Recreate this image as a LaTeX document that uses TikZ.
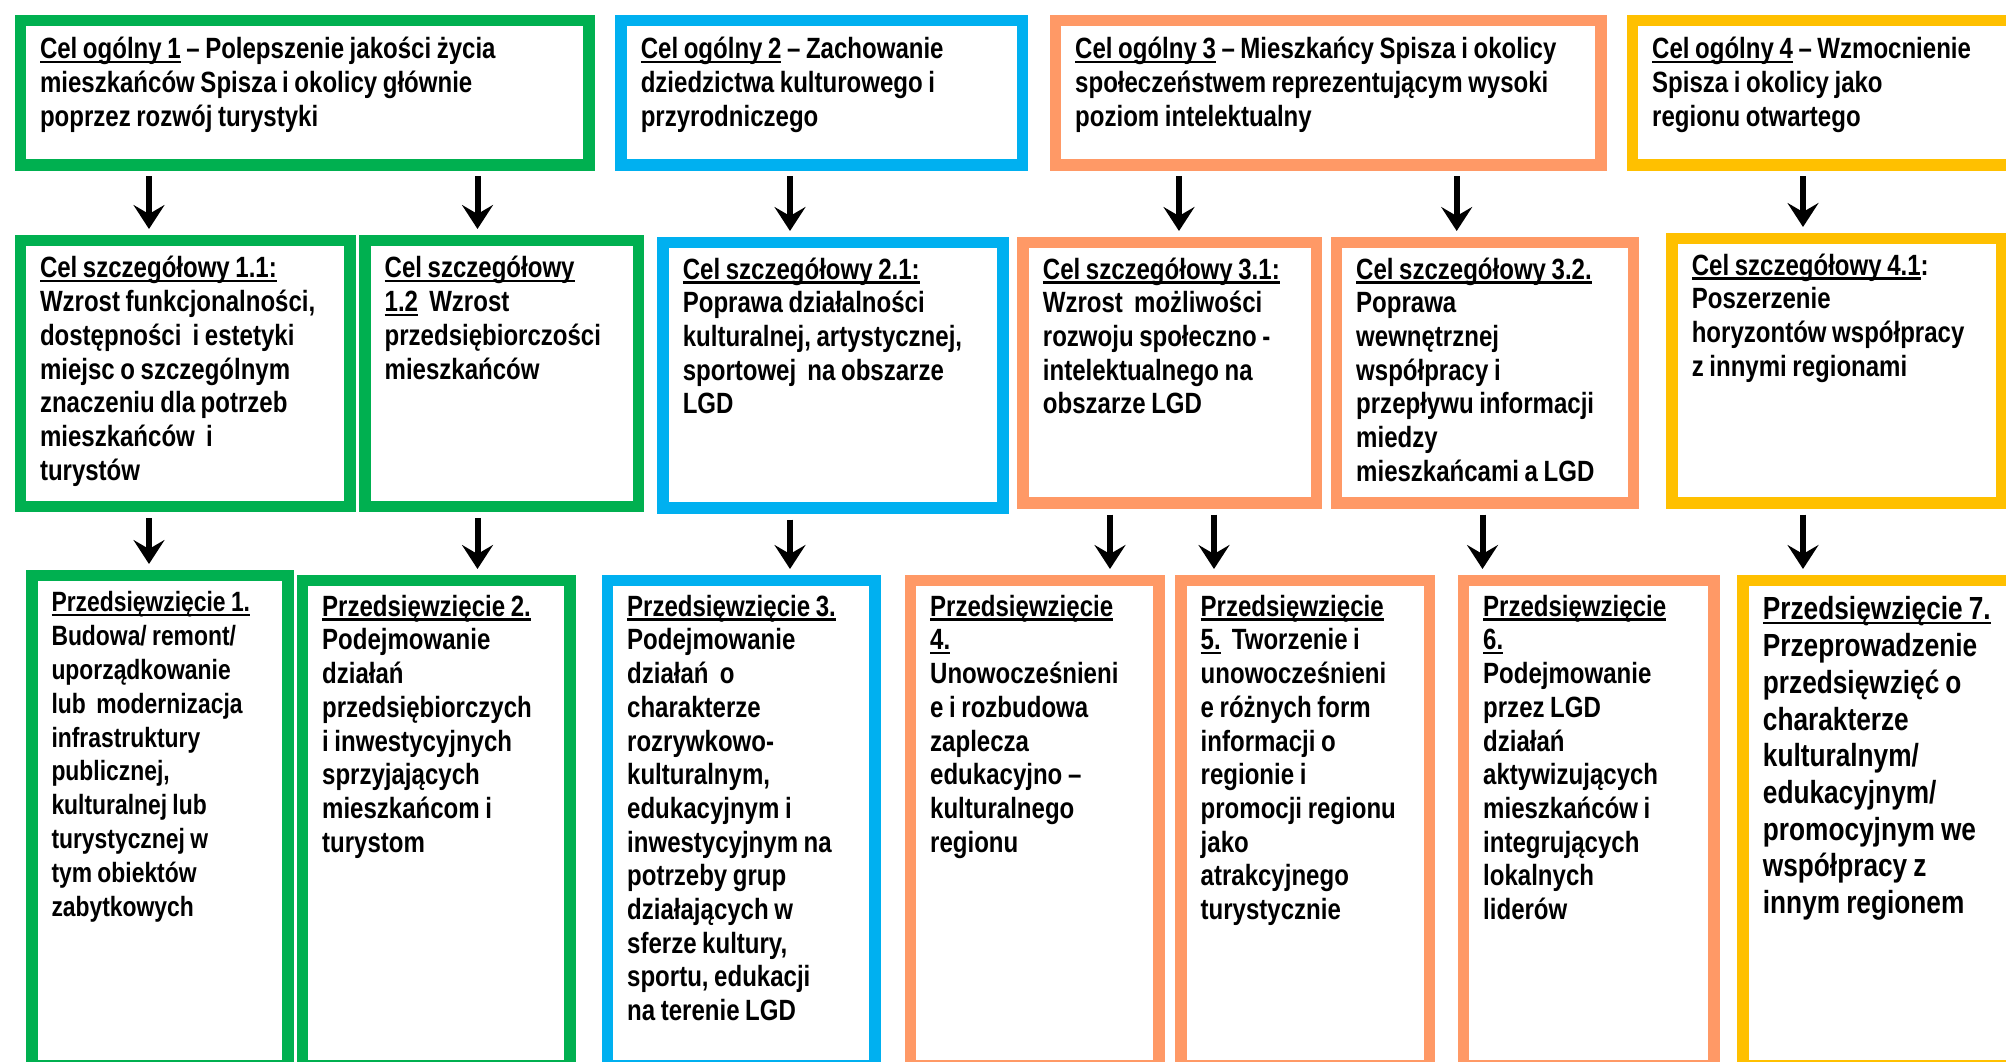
\documentclass[tikz,border=0pt]{standalone}
\usepackage{fontspec}
\setmainfont{Liberation Sans}[FakeStretch=0.82]
\usepackage[HTML]{xcolor}
\usepackage{tikz}
\usetikzlibrary{arrows.meta}

\definecolor{zielony}{HTML}{00B050}
\definecolor{niebieski}{HTML}{00B0F0}
\definecolor{pomaranczowy}{HTML}{FF9966}
\definecolor{zolty}{HTML}{FFC000}

\newcommand{\podkr}[1]{\leavevmode\setbox0=\hbox{#1}\rlap{\rule[-4.5pt]{\wd0}{2.4pt}}\box0\relax}
\newcommand{\odstep}[1]{\spaceskip #1\relax}

\tikzset{
  ramka/.style={draw=#1, line width=11.5pt, fill=white, inner sep=0pt, anchor=north west},
  opis/.style={anchor=north west, inner sep=0pt, align=left, text height=20pt,
    font=\bfseries\fontsize{29.3}{33.7}\selectfont, execute at begin node=\odstep{5.6pt}},
  strzalka/.style={line width=6pt, -{Stealth[length=24pt,width=31pt,inset=9pt]},
    shorten <=5.75pt, shorten >=5.75pt}
}

\begin{document}
\begin{tikzpicture}[x=1pt,y=-1pt]
\useasboundingbox (0,0) rectangle (2006,1062);
% cele ogolne
\node[ramka=zielony, minimum width=568.7pt, minimum height=144.7pt] (g1) at (14.55,14.55) {};
\node[ramka=niebieski, minimum width=401.6pt, minimum height=144.7pt] (g2) at (615.35,14.55) {};
\node[ramka=pomaranczowy, minimum width=545.5pt, minimum height=144.7pt] (g3) at (1049.75,14.55) {};
\node[ramka=zolty, minimum width=379pt, minimum height=144.7pt] (g4) at (1626.75,14.55) {};
\node[opis, text width=545pt] (tg1) at (39.8,38.8) {\podkr{Cel ogólny 1} – Polepszenie jakości życia\\ mieszkańców Spisza i okolicy głównie\\ poprzez rozwój turystyki};
\node[opis, text width=378pt] (tg2) at (640.6,38.8) {\podkr{Cel ogólny 2} – Zachowanie\\ dziedzictwa kulturowego i\\ przyrodniczego};
\node[opis, text width=522pt] (tg3) at (1075,38.8) {\podkr{Cel ogólny 3} – Mieszkańcy Spisza i okolicy\\ społeczeństwem reprezentującym wysoki\\ poziom intelektualny};
\node[opis, text width=355pt] (tg4) at (1652,38.8) {\podkr{Cel ogólny 4} – Wzmocnienie\\ Spisza i okolicy jako\\ regionu otwartego};
% cele szczegolowe
\node[ramka=zielony, minimum width=329.7pt, minimum height=266.1pt] (s11) at (14.55,234.75) {};
\node[ramka=zielony, minimum width=273.7pt, minimum height=266.1pt] (s12) at (359.25,234.75) {};
\node[ramka=niebieski, minimum width=339.9pt, minimum height=265.5pt] (s21) at (657.35,236.75) {};
\node[ramka=pomaranczowy, minimum width=293.3pt, minimum height=260.5pt] (s31) at (1017.45,236.75) {};
\node[ramka=pomaranczowy, minimum width=297pt, minimum height=260.5pt] (s32) at (1330.75,236.75) {};
\node[ramka=zolty, minimum width=329.9pt, minimum height=264.5pt] (s41) at (1666.35,232.75) {};
\node[opis, text width=306pt] (ts11) at (39.8,257.7) {\podkr{Cel szczegółowy 1.1:}\\ Wzrost funkcjonalności,\\ dostępności~ i estetyki\\ miejsc o szczególnym\\ znaczeniu dla potrzeb\\ mieszkańców~ i\\ turystów};
\node[opis, text width=250pt] (ts12) at (384.5,257.7) {\podkr{Cel szczegółowy}\\ \podkr{1.2}~ Wzrost\\ przedsiębiorczości\\ mieszkańców};
\node[opis, text width=316pt] (ts21) at (682.6,259) {\podkr{Cel szczegółowy 2.1:}\\ Poprawa działalności\\ kulturalnej, artystycznej,\\ sportowej~ na obszarze\\ LGD};
\node[opis, text width=270pt] (ts31) at (1042.7,259) {\podkr{Cel szczegółowy 3.1:}\\ Wzrost~ możliwości\\ rozwoju społeczno -\\ intelektualnego na\\ obszarze LGD};
\node[opis, text width=273pt] (ts32) at (1356,259) {\podkr{Cel szczegółowy 3.2.}\\ Poprawa\\ wewnętrznej\\ współpracy i\\ przepływu informacji\\ miedzy\\ mieszkańcami a LGD};
\node[opis, text width=306pt] (ts41) at (1691.6,255) {\podkr{Cel szczegółowy 4.1}:\\ Poszerzenie\\ horyzontów współpracy\\ z innymi regionami};
% przedsiewziecia
\node[ramka=zielony, minimum width=256.2pt, minimum height=490.5pt] (p1) at (26.05,569.75) {};
\node[ramka=zielony, minimum width=267.5pt, minimum height=485.5pt] (p2) at (296.75,574.75) {};
\node[ramka=niebieski, minimum width=267.5pt, minimum height=485.5pt] (p3) at (601.75,574.75) {};
\node[ramka=pomaranczowy, minimum width=248.5pt, minimum height=485.5pt] (p4) at (904.75,574.75) {};
\node[ramka=pomaranczowy, minimum width=248.6pt, minimum height=485.5pt] (p5) at (1175.25,574.75) {};
\node[ramka=pomaranczowy, minimum width=250.5pt, minimum height=485.5pt] (p6) at (1457.75,574.75) {};
\node[ramka=zolty, minimum width=276.8pt, minimum height=485.5pt] (p7) at (1737.45,574.75) {};
\node[opis, text width=233pt, font=\bfseries\fontsize{27.9}{33.8}\selectfont, execute at begin node=\odstep{5.3pt}] (tp1) at (51.3,591.6) {\podkr{Przedsięwzięcie 1.}\\ Budowa/ remont/\\ uporządkowanie\\ lub~ modernizacja\\ infrastruktury\\ publicznej,\\ kulturalnej lub\\ turystycznej w\\ tym obiektów\\ zabytkowych};
\node[opis, text width=244pt] (tp2) at (322,596) {\podkr{Przedsięwzięcie 2.}\\ Podejmowanie\\ działań\\ przedsiębiorczych\\ i inwestycyjnych\\ sprzyjających\\ mieszkańcom i\\ turystom};
\node[opis, text width=244pt] (tp3) at (627,596) {\podkr{Przedsięwzięcie 3.}\\ Podejmowanie\\ działań~ o\\ charakterze\\ rozrywkowo-\\ kulturalnym,\\ edukacyjnym i\\ inwestycyjnym na\\ potrzeby grup\\ działających w\\ sferze kultury,\\ sportu, edukacji\\ na terenie LGD};
\node[opis, text width=225pt] (tp4) at (930,596) {\podkr{Przedsięwzięcie}\\ \podkr{4.}\\ Unowocześnieni\\ e i rozbudowa\\ zaplecza\\ edukacyjno –\\ kulturalnego\\ regionu};
\node[opis, text width=225pt] (tp5) at (1200.5,596) {\podkr{Przedsięwzięcie}\\ \podkr{5.}~ Tworzenie i\\ unowocześnieni\\ e różnych form\\ informacji o\\ regionie i\\ promocji regionu\\ jako\\ atrakcyjnego\\ turystycznie};
\node[opis, text width=227pt] (tp6) at (1483,596) {\podkr{Przedsięwzięcie}\\ \podkr{6.}\\ Podejmowanie\\ przez LGD\\ działań\\ aktywizujących\\ mieszkańców i\\ integrujących\\ lokalnych\\ liderów};
\node[opis, text width=253pt, font=\bfseries\fontsize{32}{36.7}\selectfont, execute at begin node=\odstep{6.1pt}] (tp7) at (1762.7,599.7) {\podkr{Przedsięwzięcie 7.}\\ Przeprowadzenie\\ przedsięwzięć o\\ charakterze\\ kulturalnym/\\ edukacyjnym/\\ promocyjnym we\\ współpracy z\\ innym regionem};
% strzalki
\coordinate (k1) at (149,0);
\coordinate (k2) at (477.5,0);
\coordinate (k3) at (790,0);
\coordinate (k4) at (1179,0);
\coordinate (k5) at (1456.7,0);
\coordinate (k6) at (1803,0);
\coordinate (k7) at (1110,0);
\coordinate (k8) at (1214,0);
\coordinate (k9) at (1482.5,0);
\draw[strzalka] (g1.south -| k1) -- (s11.north -| k1);
\draw[strzalka] (g1.south -| k2) -- (s12.north -| k2);
\draw[strzalka] (g2.south -| k3) -- (s21.north -| k3);
\draw[strzalka] (g3.south -| k4) -- (s31.north -| k4);
\draw[strzalka] (g3.south -| k5) -- (s32.north -| k5);
\draw[strzalka] (g4.south -| k6) -- (s41.north -| k6);
\draw[strzalka] (s11.south -| k1) -- (p1.north -| k1);
\draw[strzalka] (s12.south -| k2) -- (p2.north -| k2);
\draw[strzalka] (s21.south -| k3) -- (p3.north -| k3);
\draw[strzalka] (s31.south -| k7) -- (p4.north -| k7);
\draw[strzalka] (s31.south -| k8) -- (p5.north -| k8);
\draw[strzalka] (s32.south -| k9) -- (p6.north -| k9);
\draw[strzalka] (s41.south -| k6) -- (p7.north -| k6);
\end{tikzpicture}
\end{document}
